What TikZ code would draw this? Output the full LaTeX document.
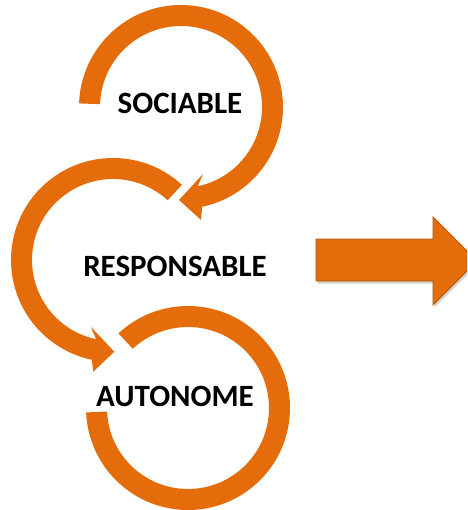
\documentclass[tikz,border=0pt]{standalone}
\usepackage{fontspec}
\setmainfont{Carlito}
\usetikzlibrary{calc}
\definecolor{arrorange}{HTML}{E46C0A}
\definecolor{arredge}{HTML}{B65708}
\begin{document}
\begin{tikzpicture}[x=1pt,y=-1pt,
  arr/.style={fill=arrorange},
  lbl/.style={font=\fontsize{31}{31}\selectfont\bfseries, text=black, inner sep=0pt, text height=20pt, text depth=0pt, anchor=center}]
\useasboundingbox (0,0) rectangle (467,510);
\clip (0,0) rectangle (467,510);
% centres of the three circular arrows
\coordinate (C1) at (181,107);
\coordinate (C2) at (113,260);
\coordinate (C3) at (188,408);
% top circular arrow (SOCIABLE)
\fill[arr] ([shift={(182:102)}]C1) arc[start angle=182, end angle=438, radius=102]
  -- (201,220) -- (179,200) -- (203,174)
  -- ([shift={(438:81)}]C1) arc[start angle=438, end angle=182, radius=81] -- cycle;
% middle circular arrow (RESPONSABLE)
\fill[arr] ([shift={(-47.5:102)}]C2) arc[start angle=-47.5, end angle=-258, radius=102]
  -- (93.3,371.7) -- (114.3,351.7) -- (90.7,326.7)
  -- ([shift={(-258:81)}]C2) arc[start angle=-258, end angle=-47.5, radius=81] -- cycle;
% bottom circular band (AUTONOME)
\fill[arr] ([shift={(-133:102)}]C3) arc[start angle=-133, end angle=177.5, radius=102]
  -- ([shift={(177.5:81)}]C3) arc[start angle=177.5, end angle=-133, radius=81] -- cycle;
% labels
\node[lbl] (soc) at (180,104) {SOCIABLE};
\node[lbl] (resp) at (175,266.5) {RESPONSABLE};
\node[lbl] (auto) at (175,396) {AUTONOME};
% block arrow with soft shadow
\fill[black, opacity=0.18] (317.5,241.5) -- (434.5,241.5) -- (434.5,219.5) -- (478.5,263.5) -- (434.5,307.5) -- (434.5,283.5) -- (317.5,283.5) -- cycle;
\filldraw[fill=arrorange, draw=arredge, line width=0.8pt] (316,239) -- (433,239) -- (433,217) -- (477,261) -- (433,305) -- (433,281) -- (316,281) -- cycle;
\end{tikzpicture}
\end{document}
